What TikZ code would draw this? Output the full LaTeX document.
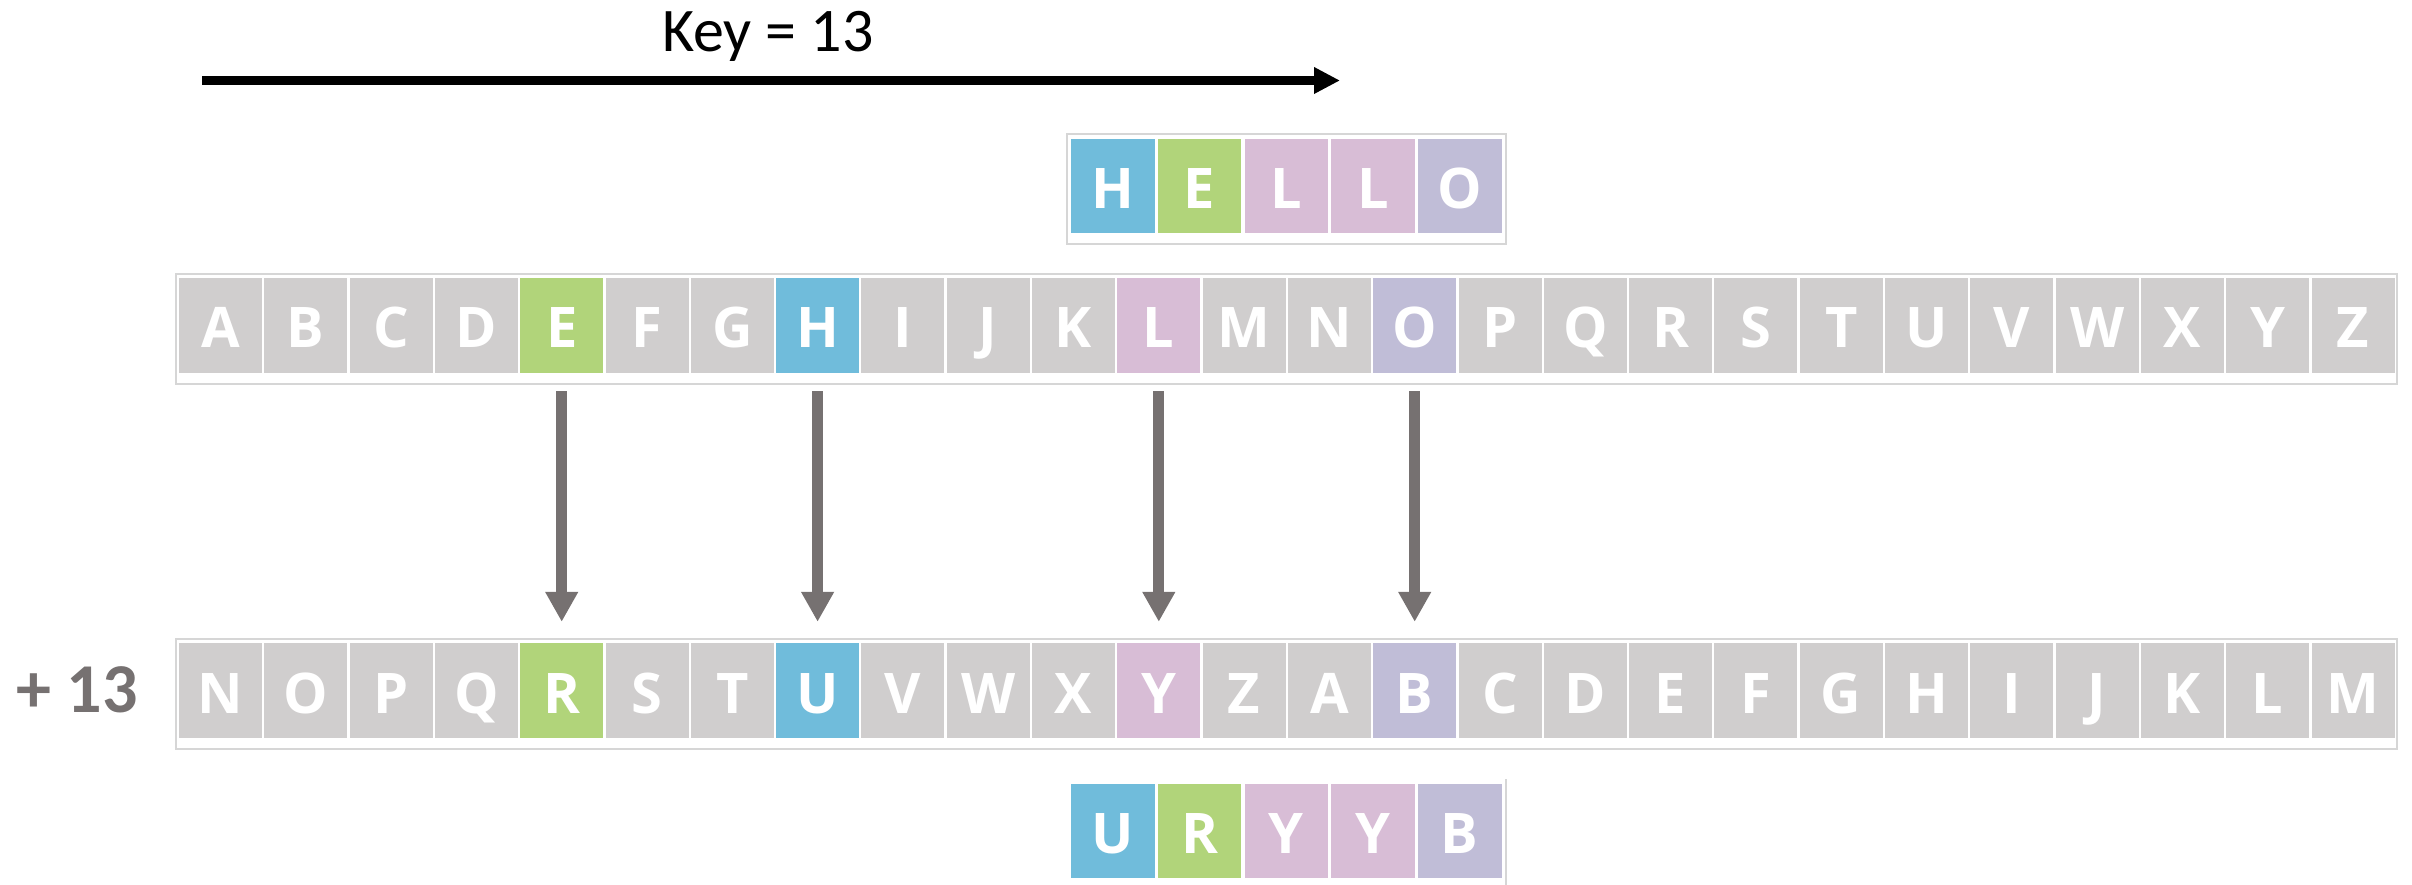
\documentclass[tikz,border=0pt]{standalone}
\usepackage{fontspec}
\setmainfont{Open Sans}
\newfontfamily\calibri{Carlito}
\usetikzlibrary{arrows.meta}
\definecolor{cellgray}{HTML}{D0CECE}
\definecolor{cellblue}{HTML}{70BCDB}
\definecolor{cellgreen}{HTML}{B1D47A}
\definecolor{cellpink}{HTML}{D8BDD6}
\definecolor{celllav}{HTML}{C0BDD7}
\definecolor{framegray}{HTML}{D6D6D6}
\definecolor{arrowgray}{HTML}{767171}
\begin{document}
\begin{tikzpicture}[x=1pt,y=-1pt,
  cell/.style={minimum width=83pt, minimum height=95pt, inner sep=0pt,
    text=white, font=\fontsize{56}{60}\selectfont\bfseries,
    text height=45pt, text depth=0pt},
  wordcell/.style={cell, minimum width=83.5pt, minimum height=94pt},
  frame/.style={draw=framegray, line width=1.5pt},
  maparrow/.style={draw=arrowgray, line width=11pt, -{Triangle[width=31pt,length=30pt]}},
  keyarrow/.style={draw=black, line width=9pt, -{Triangle[width=25pt,length=26pt]}},
]
\useasboundingbox (0,0) rectangle (2412,885);

% key arrow and its label
\node[anchor=base, inner sep=0pt, font=\calibri\fontsize{62}{70}\selectfont] (keylabel) at (768,52) {Key = 13};
\coordinate (keystart) at (202,80.5);
\coordinate (keyend) at (1340,80.5);
\draw[keyarrow] (keystart) -- (keyend);

% plain word
\draw[frame] (1067,134) rectangle (1506,244);
\foreach \L/\c [count=\j from 0] in {H/cellblue,E/cellgreen,L/cellpink,L/cellpink,O/celllav}
  \node[wordcell, fill=\c] (h\j) at (1112.75+86.75*\j,186) {\L};

% plain alphabet
\draw[frame] (176,274) rectangle (2397,384);
\foreach \L/\c [count=\i from 0] in {A/cellgray,B/cellgray,C/cellgray,D/cellgray,E/cellgreen,
    F/cellgray,G/cellgray,H/cellblue,I/cellgray,J/cellgray,K/cellgray,L/cellpink,M/cellgray,
    N/cellgray,O/celllav,P/cellgray,Q/cellgray,R/cellgray,S/cellgray,T/cellgray,U/cellgray,
    V/cellgray,W/cellgray,X/cellgray,Y/cellgray,Z/cellgray}
  \node[cell, fill=\c] (t\i) at (220.5+85.3*\i,325.5) {\L};

% shifted alphabet
\node[anchor=base, inner sep=0pt, text=arrowgray,
  font=\calibri\bfseries\fontsize{70}{80}\selectfont] (shift) at (77,712) {+ 13};
\draw[frame] (176,639) rectangle (2397,749);
\foreach \L/\c [count=\i from 0] in {N/cellgray,O/cellgray,P/cellgray,Q/cellgray,R/cellgreen,
    S/cellgray,T/cellgray,U/cellblue,V/cellgray,W/cellgray,X/cellgray,Y/cellpink,Z/cellgray,
    A/cellgray,B/celllav,C/cellgray,D/cellgray,E/cellgray,F/cellgray,G/cellgray,H/cellgray,
    I/cellgray,J/cellgray,K/cellgray,L/cellgray,M/cellgray}
  \node[cell, fill=\c] (b\i) at (220.5+85.3*\i,690.5) {\L};

% mapping arrows
\foreach \k in {4,7,11,14}
  \draw[maparrow] ([yshift=-18pt]t\k.south) -- ([yshift=21pt]b\k.north);

% cipher word
\draw[frame] (1506,779) -- (1506,885);
\foreach \L/\c [count=\j from 0] in {U/cellblue,R/cellgreen,Y/cellpink,Y/cellpink,B/celllav}
  \node[wordcell, fill=\c] (u\j) at (1112.75+86.75*\j,831) {\L};
\end{tikzpicture}
\end{document}
